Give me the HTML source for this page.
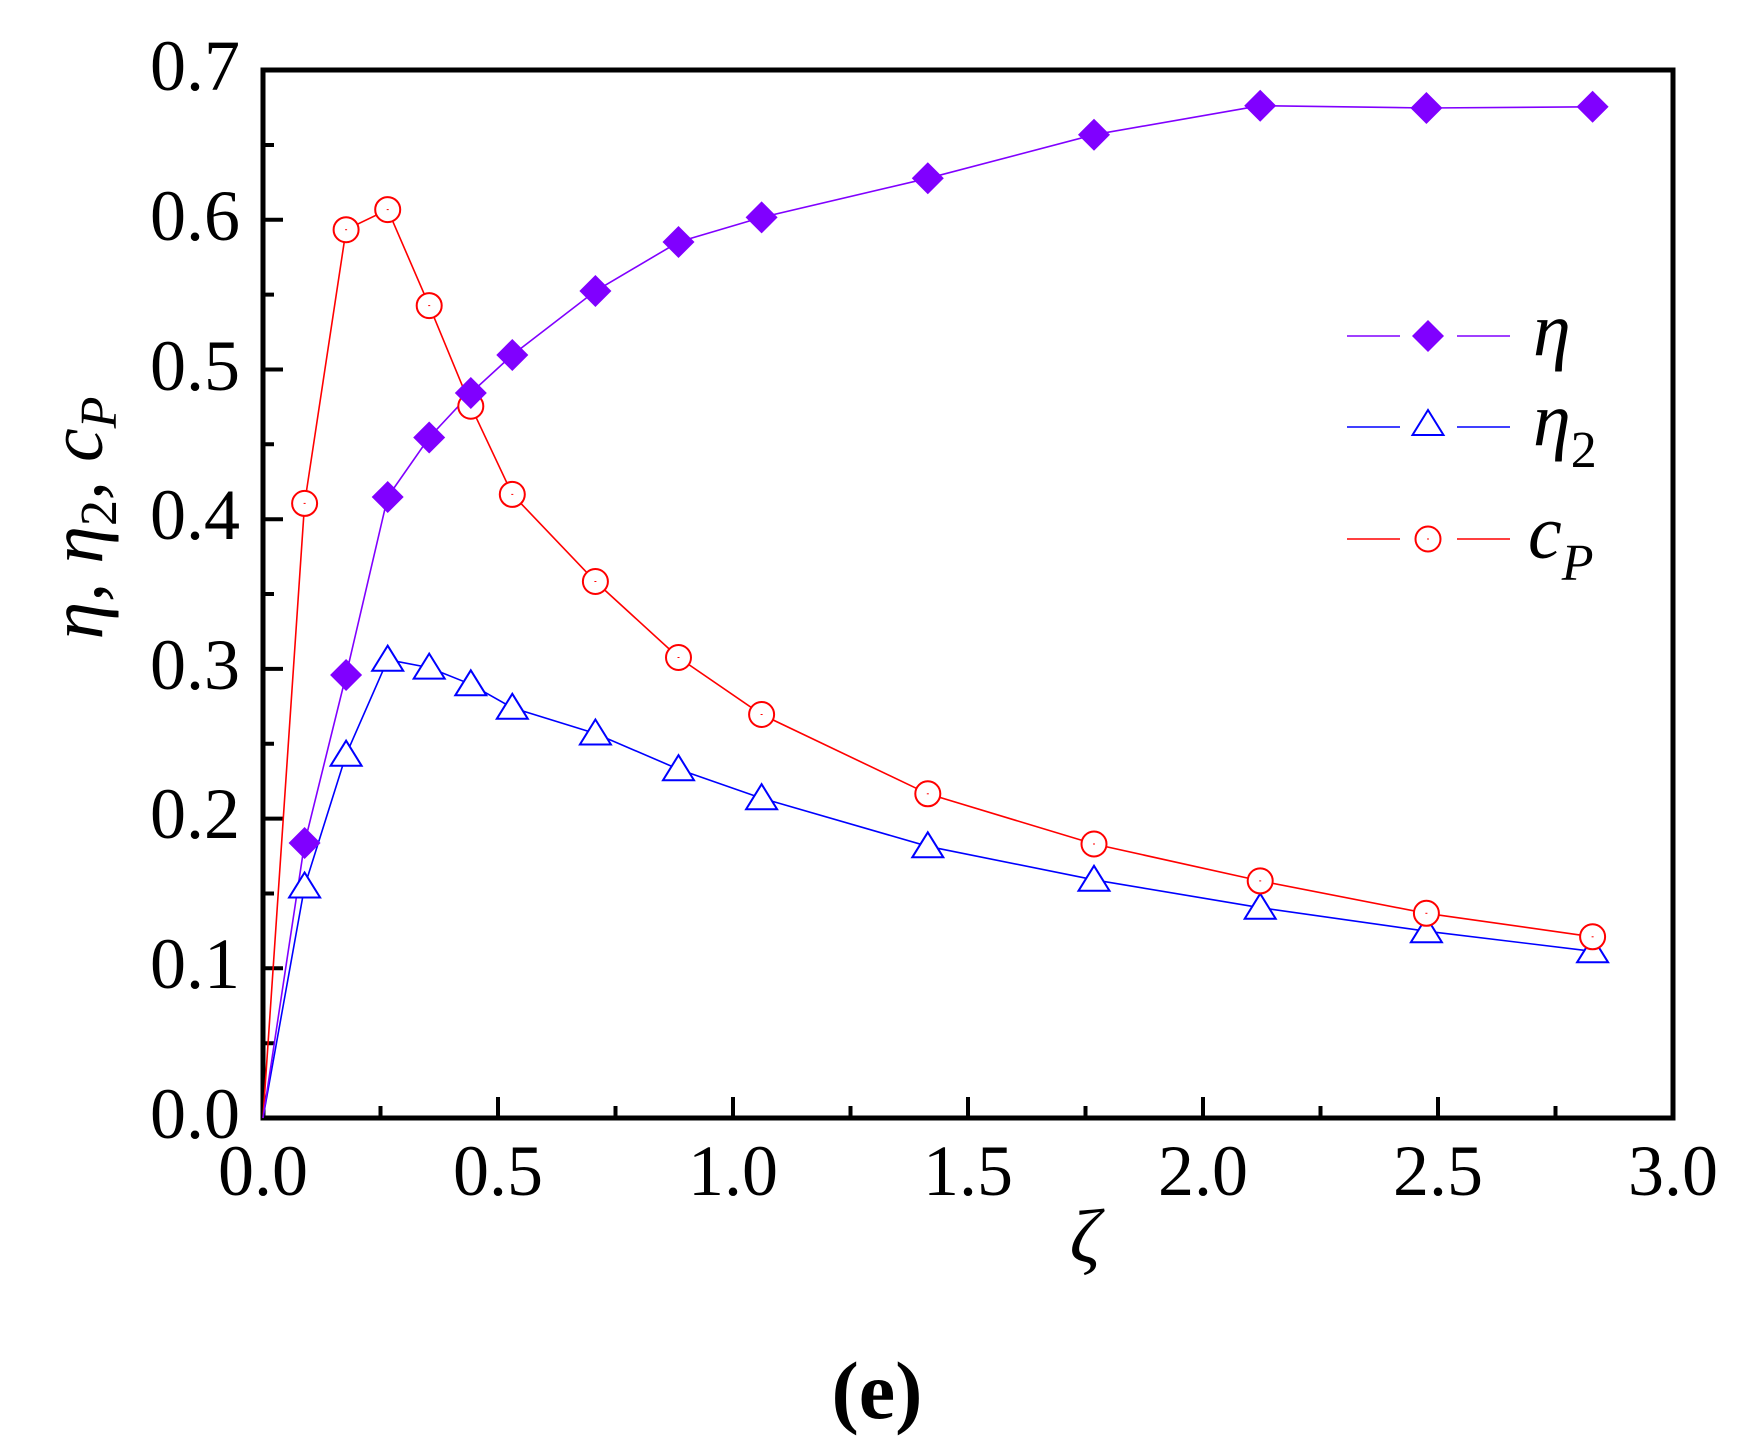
<!DOCTYPE html>
<html><head><meta charset="utf-8"><style>
html,body{margin:0;padding:0;background:#fff;}
svg{display:block;}
text{font-family:"Liberation Serif",serif;fill:#000;}
</style></head><body>
<svg width="1750" height="1445" viewBox="0 0 1750 1445" xmlns="http://www.w3.org/2000/svg">
<rect width="1750" height="1445" fill="#fff"/>
<!-- ticks -->
<g stroke="#000" stroke-width="4">
<path d="M263 1118h20M263 968.3h20M263 818.6h20M263 668.9h20M263 519.2h20M263 369.5h20M263 219.8h20"/>
<path d="M263 1043.2h11M263 893.5h11M263 743.8h11M263 594h11M263 444.3h11M263 294.6h11M263 145h11"/>
<path d="M498 1118v-21M733 1118v-21M968 1118v-21M1203 1118v-21M1438 1118v-21"/>
<path d="M380.5 1118v-12M615.5 1118v-12M850.5 1118v-12M1085.5 1118v-12M1320.5 1118v-12M1555.5 1118v-12"/>
</g>
<rect x="263" y="70" width="1410" height="1048" fill="none" stroke="#000" stroke-width="5"/>
<!-- y labels -->
<g font-size="72" text-anchor="end">
<text x="240" y="1138">0.0</text>
<text x="240" y="988">0.1</text>
<text x="240" y="838">0.2</text>
<text x="240" y="689">0.3</text>
<text x="240" y="539">0.4</text>
<text x="240" y="390">0.5</text>
<text x="240" y="240">0.6</text>
<text x="240" y="90">0.7</text>
</g>
<g font-size="72" text-anchor="middle">
<text x="263" y="1195">0.0</text>
<text x="498" y="1195">0.5</text>
<text x="733" y="1195">1.0</text>
<text x="968" y="1195">1.5</text>
<text x="1203" y="1195">2.0</text>
<text x="1438" y="1195">2.5</text>
<text x="1673" y="1195">3.0</text>
</g>
<text x="1085" y="1262" font-size="76" font-style="italic" text-anchor="middle">ζ</text>
<text x="877" y="1418" font-size="82" font-weight="bold" text-anchor="middle">(e)</text>
<text transform="translate(102,518) rotate(-90)" font-size="76" font-style="italic" text-anchor="middle">η, η<tspan font-size="52" font-style="normal" dy="14">2</tspan><tspan dy="-14">, c</tspan><tspan font-size="52" dy="14">P</tspan></text>
<!-- series lines -->
<polyline fill="none" stroke="#0000ff" stroke-width="1.6" points="263,1118 304.6,886.5 346.1,754.7 387.7,659.7 429.2,667.6 470.8,684.3 512.3,707.8 595.4,733.5 678.5,769.2 761.6,798.2 927.8,846.3 1094,879.8 1260.2,907.7 1426.4,931.2 1592.6,951.3"/>
<polyline fill="none" stroke="#ff0000" stroke-width="1.6" points="263,1118 304.6,503.4 346.1,229.7 387.7,209.6 429.2,305.6 470.8,406.2 512.3,494.4 595.4,581.5 678.5,657.5 761.6,714.5 927.8,793.8 1094,844 1260.2,880.9 1426.4,913.3 1592.6,936.8"/>
<polyline fill="none" stroke="#8000ff" stroke-width="1.6" points="263,1118 304.6,843 346.1,675 387.7,497 429.2,437.5 470.8,393 512.3,355 595.4,291 678.5,242 761.6,217.4 927.8,178.3 1094,134.7 1260.2,105.7 1426.4,108 1592.6,106.8"/>
<!-- markers -->
<defs>
<path id="d" d="M0 -16L16 0L0 16L-16 0Z" fill="#8000ff"/>
<path id="t" d="M0 -14L15.5 11L-15.5 11Z" fill="#fff" stroke="#0000ff" stroke-width="2"/>
<g id="c"><circle r="12.5" fill="#fff" stroke="#ff0000" stroke-width="2"/><rect x="-1" y="-0.5" width="2" height="1" fill="#ff0000"/></g>
</defs>
<g>
<use href="#t" x="304.6" y="886.5"/><use href="#t" x="346.1" y="754.7"/><use href="#t" x="387.7" y="659.7"/><use href="#t" x="429.2" y="667.6"/><use href="#t" x="470.8" y="684.3"/><use href="#t" x="512.3" y="707.8"/><use href="#t" x="595.4" y="733.5"/><use href="#t" x="678.5" y="769.2"/><use href="#t" x="761.6" y="798.2"/><use href="#t" x="927.8" y="846.3"/><use href="#t" x="1094" y="879.8"/><use href="#t" x="1260.2" y="907.7"/><use href="#t" x="1426.4" y="931.2"/><use href="#t" x="1592.6" y="951.3"/>
<use href="#c" x="304.6" y="503.4"/><use href="#c" x="346.1" y="229.7"/><use href="#c" x="387.7" y="209.6"/><use href="#c" x="429.2" y="305.6"/><use href="#c" x="470.8" y="406.2"/><use href="#c" x="512.3" y="494.4"/><use href="#c" x="595.4" y="581.5"/><use href="#c" x="678.5" y="657.5"/><use href="#c" x="761.6" y="714.5"/><use href="#c" x="927.8" y="793.8"/><use href="#c" x="1094" y="844"/><use href="#c" x="1260.2" y="880.9"/><use href="#c" x="1426.4" y="913.3"/><use href="#c" x="1592.6" y="936.8"/>
<use href="#d" x="304.6" y="843"/><use href="#d" x="346.1" y="675"/><use href="#d" x="387.7" y="497"/><use href="#d" x="429.2" y="437.5"/><use href="#d" x="470.8" y="393"/><use href="#d" x="512.3" y="355"/><use href="#d" x="595.4" y="291"/><use href="#d" x="678.5" y="242"/><use href="#d" x="761.6" y="217.4"/><use href="#d" x="927.8" y="178.3"/><use href="#d" x="1094" y="134.7"/><use href="#d" x="1260.2" y="105.7"/><use href="#d" x="1426.4" y="108"/><use href="#d" x="1592.6" y="106.8"/>
</g>
<!-- legend -->
<g stroke-width="1.6">
<path d="M1347 336h53M1457 336h53" stroke="#8000ff"/>
<path d="M1347 427h53M1457 427h53" stroke="#0000ff"/>
<path d="M1347 539h53M1457 539h53" stroke="#ff0000"/>
</g>
<use href="#d" x="1428" y="336"/>
<use href="#t" x="1428" y="424"/>
<use href="#c" x="1428" y="539"/>
<g font-size="76" font-style="italic">
<text x="1533" y="355">η</text>
<text x="1533" y="445">η<tspan font-size="52" font-style="normal" dy="22">2</tspan></text>
<text x="1528" y="558">c<tspan font-size="52" dy="22">P</tspan></text>
</g>
</svg>
</body></html>
